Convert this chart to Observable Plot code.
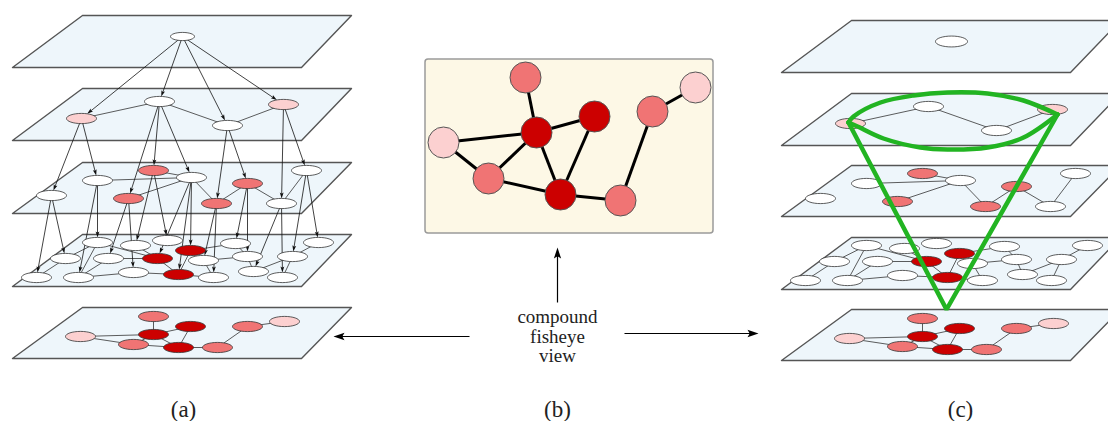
<!DOCTYPE html>
<html><head><meta charset="utf-8">
<script src="https://cdn.jsdelivr.net/npm/d3@7"></script>
<script src="https://cdn.jsdelivr.net/npm/@observablehq/plot@0.6"></script>
<style>body{margin:0;background:#fff;} #chart svg{display:block;}</style>
</head><body><div id="chart"></div>
<script>
// ---------------- DATA (panel (a) coordinates) ----------------
// Plane outlines: top / bottom y of each of the 5 layers, x of the top and bottom edges
const planeTop    = [15, 88, 162, 234, 307];
const planeBottom = [67, 140, 213, 286, 358];
const planeTopX    = [82, 351];
const planeBottomX = [12, 301];

// Nodes per layer: [id, x, y, colour class]
const layer0 = [["T", 182, 36, "white"]];
const layer1 = [["q1", 81, 118, "light"], ["q2", 159, 101, "white"], ["q3", 227, 125, "white"], ["q4", 283, 104, "light"]];
const layer2 = [["p1", 51, 195, "white"], ["p2", 97, 180, "white"], ["p3", 153, 170, "salmon"], ["p4", 191, 177, "white"],
  ["p5", 128, 198, "salmon"], ["p6", 247, 183, "salmon"], ["p7", 216, 203, "salmon"], ["p8", 306, 170, "white"], ["p9", 281, 203, "white"]];
const layer3 = [["A", 97, 242, "white"], ["B", 135, 245, "white"], ["C", 167, 240, "white"], ["D", 190, 250, "dark"], ["E", 157, 258, "dark"],
  ["F", 235, 243, "white"], ["G", 318, 242, "white"], ["H", 65, 258, "white"], ["I", 108, 258, "white"], ["J", 203, 260, "white"],
  ["K", 247, 256, "white"], ["L", 292, 256, "white"], ["M", 36, 277, "white"], ["N", 78, 277, "white"], ["O", 133, 272, "white"],
  ["P", 178, 274, "dark"], ["Q", 213, 277, "white"], ["R", 253, 271, "white"], ["S", 282, 277, "white"]];
const layer4 = [["a1", 153, 316, "salmon"], ["a2", 190, 326, "dark"], ["a3", 153, 334, "dark"], ["a4", 80, 336, "light"],
  ["a5", 133, 344, "salmon"], ["a6", 178, 347, "dark"], ["a7", 217, 347, "salmon"], ["a8", 247, 326, "salmon"], ["a9", 284, 321, "light"]];
const layers = [layer0, layer1, layer2, layer3, layer4];

// Edges inside the planes
const planeEdges = [
  ["q1","q2"],["q2","q3"],["q3","q4"],
  ["p2","p4"],["p3","p4"],["p5","p4"],["p4","p7"],["p7","p6"],["p6","p9"],["p9","p8"],
  ["H","A"],["M","H"],["N","I"],["A","N"],["I","E"],["A","E"],["N","O"],["O","P"],["E","P"],["D","P"],["D","F"],
  ["J","Q"],["J","K"],["P","Q"],["K","R"],["F","K"],["R","L"],["L","S"],["L","G"],["B","E"],
  ["a1","a3"],["a3","a2"],["a4","a3"],["a4","a5"],["a5","a3"],["a3","a6"],["a2","a6"],["a5","a6"],["a6","a7"],["a7","a8"],["a8","a9"]
];
// Arrows between planes (panel (a) only)
const layerArrows = [
  ["T","q1"],["T","q2"],["T","q3"],["T","q4"],
  ["q1","p1"],["q1","p2"],["q2","p5"],["q2","p3"],["q2","p4"],["q3","p7"],["q3","p6"],["q4","p9"],["q4","p8"],
  ["p1","M"],["p1","H"],["p2","A"],["p2","N"],["p5","I"],["p5","O"],["p3","B"],["p3","C"],["p4","E"],["p4","P"],["p4","D"],
  ["p7","Q"],["p7","J"],["p6","F"],["p6","K"],["p9","R"],["p9","S"],["p8","L"],["p8","G"]
];

// Panel (c) offsets relative to panel (a)
const panelCShiftX = 769;
const panelCShiftY = [5, 5, 3, 3, 2];

// Panel (b): fisheye graph
const bNodes = [["b1", 525, 77, "salmon"], ["b2", 695, 87, "light"], ["b3", 652, 111, "salmon"], ["b4", 594, 116, "dark"],
  ["b5", 536, 132, "dark"], ["b6", 443, 142, "light"], ["b7", 488, 178, "salmon"], ["b8", 560, 194, "dark"], ["b9", 620, 200, "salmon"]];
const bEdges = [["b1","b5"],["b5","b4"],["b5","b6"],["b5","b7"],["b5","b8"],["b4","b8"],["b6","b7"],["b7","b8"],["b8","b9"],["b9","b3"],["b3","b2"]];
const bBox = [{x1: 425, x2: 713, y1: 59, y2: 233}];

// Big arrows around the caption: [x1, y1, x2(tip), y2(tip)]
const bigArrows = [[557, 302, 557, 247], [469, 336, 333, 336], [624, 333, 758, 333]];
const caption = ["compound\nfisheye\nview"];
const captionPos = [557, 336];

// Green cone in panel (c): lens outline points and apex
const lensUpperPts = [[848, 122], [853, 116], [880, 102], [913, 95], [947, 92], [987, 93], [1023, 100], [1057, 114]];
const lensLowerPts = [[848, 122], [857, 126], [883, 138], [920, 147], [947, 149], [987, 147], [1023, 137], [1057, 114]];
const coneApex = [946, 309];

const panelLabels = [["(a)", 183, 409], ["(b)", 557, 409], ["(c)", 960, 409]];

// ---------------- STYLES ----------------
const colours = {white: "#ffffff", light: "#fcd0d0", salmon: "#f07474", dark: "#cc0000"};
const planeFill = "#eef6fb", planeStroke = "#555";
const green = "#22b422";

// ---------------- BUILD ----------------
const ellipseSym = (ratio) => ({
  draw(ctx, size) {
    const rx = Math.sqrt(size / Math.PI), ry = rx * ratio, k = 0.5523;
    ctx.moveTo(rx, 0);
    ctx.bezierCurveTo(rx, ry * k, rx * k, ry, 0, ry);
    ctx.bezierCurveTo(-rx * k, ry, -rx, ry * k, -rx, 0);
    ctx.bezierCurveTo(-rx, -ry * k, -rx * k, -ry, 0, -ry);
    ctx.bezierCurveTo(rx * k, -ry, rx, -ry * k, rx, 0);
    ctx.closePath();
  }
});
const headSym = (ratio) => ({
  draw(ctx, size) {
    const l = Math.sqrt(size / Math.PI), w = l * ratio;
    ctx.moveTo(0, 0); ctx.lineTo(w, l); ctx.lineTo(0, l * 0.8); ctx.lineTo(-w, l); ctx.closePath();
  }
});

const nodesA = [], nodesC = [];
layers.forEach((L, li) => L.forEach(([id, x, y, kind]) => {
  nodesA.push({id, layer: li, x, y, kind});
  nodesC.push({id, layer: li, x: x + panelCShiftX, y: y + panelCShiftY[li], kind});
}));
const byA = new Map(nodesA.map(d => [d.id, d]));
const byC = new Map(nodesC.map(d => [d.id, d]));

const planes = [];
planeTop.forEach((t, i) => {
  const b = planeBottom[i];
  ["a", "c"].forEach(p => {
    const dx = p === "a" ? 0 : panelCShiftX, dy = p === "a" ? 0 : panelCShiftY[i];
    const pts = [[planeTopX[0], t], [planeTopX[1], t], [planeBottomX[1], b], [planeBottomX[0], b], [planeTopX[0], t]];
    pts.forEach(([x, y]) => planes.push({z: p + i, x: x + dx, y: y + dy}));
  });
});

const edgeSegs = [];
planeEdges.forEach(([s, t]) => {
  [byA, byC].forEach(m => { const a = m.get(s), b = m.get(t); edgeSegs.push({x1: a.x, y1: a.y, x2: b.x, y2: b.y}); });
});

const RX = 15, RY = 5;
const arrowSegs = [], arrowHeads = [];
layerArrows.forEach(([s, t]) => {
  const a = byA.get(s), b = byA.get(t);
  const dx = b.x - a.x, dy = b.y - a.y, len = Math.hypot(dx, dy), ux = dx / len, uy = dy / len;
  const tt = 1 / Math.sqrt((ux / RX) ** 2 + (uy / RY) ** 2);
  const ex = b.x - ux * tt, ey = b.y - uy * tt;
  arrowSegs.push({x1: a.x, y1: a.y, x2: ex - ux * 3, y2: ey - uy * 3});
  arrowHeads.push({x: ex, y: ey, rot: Math.atan2(dy, dx) * 180 / Math.PI + 90});
});

const bigSegs = [], bigHeads = [];
bigArrows.forEach(([x1, y1, x2, y2]) => {
  const dx = x2 - x1, dy = y2 - y1, len = Math.hypot(dx, dy), ux = dx / len, uy = dy / len;
  bigSegs.push({x1, y1, x2: x2 - ux * 6, y2: y2 - uy * 6});
  bigHeads.push({x: x2, y: y2, rot: Math.atan2(dy, dx) * 180 / Math.PI + 90});
});

const bNodeData = bNodes.map(([id, x, y, kind]) => ({id, x, y, kind}));
const bMap = new Map(bNodeData.map(d => [d.id, d]));
const bSegs = bEdges.map(([s, t]) => ({x1: bMap.get(s).x, y1: bMap.get(s).y, x2: bMap.get(t).x, y2: bMap.get(t).y}));

const lensUpper = lensUpperPts.map(([x, y]) => ({x, y}));
const lensLower = lensLowerPts.map(([x, y]) => ({x, y}));
const cone = [lensUpperPts[0], coneApex, lensUpperPts[lensUpperPts.length - 1]].map(([x, y]) => ({x, y}));

const ell = ellipseSym(0.34);
const nodeMarks = (data, r) => Plot.dot(data, {x: "x", y: "y", r, symbol: ell, fill: d => colours[d.kind], stroke: "#333", strokeWidth: 0.8});

const chart = Plot.plot({
  width: 1108, height: 421, margin: 0,
  x: {domain: [0, 1108], range: [0, 1108], axis: null},
  y: {domain: [0, 421], range: [0, 421], axis: null},
  style: {background: "#fff"},
  marks: [
    Plot.line(planes, {x: "x", y: "y", z: "z", fill: planeFill, stroke: planeStroke, strokeWidth: 1.4, curve: "linear"}),
    Plot.link(edgeSegs, {x1: "x1", y1: "y1", x2: "x2", y2: "y2", stroke: "#333", strokeWidth: 0.8}),
    Plot.link(arrowSegs, {x1: "x1", y1: "y1", x2: "x2", y2: "y2", stroke: "#111", strokeWidth: 0.8}),
    Plot.dot(arrowHeads, {x: "x", y: "y", r: 6, rotate: "rot", symbol: headSym(0.32), fill: "#111", stroke: "none"}),
    nodeMarks(nodesA.filter(d => d.layer === 0), 12),
    nodeMarks(nodesC.filter(d => d.layer === 0), 16),
    nodeMarks(nodesA.filter(d => d.layer > 0), RX),
    nodeMarks(nodesC.filter(d => d.layer > 0), RX),
    // panel (b)
    Plot.rect(bBox, {x1: "x1", x2: "x2", y1: "y1", y2: "y2", fill: "#fdf8e6", stroke: "#9a9a9a", strokeWidth: 1.5, rx: 3}),
    Plot.link(bSegs, {x1: "x1", y1: "y1", x2: "x2", y2: "y2", stroke: "#000", strokeWidth: 3}),
    Plot.dot(bNodeData, {x: "x", y: "y", r: 15.5, fill: d => colours[d.kind], stroke: "#555", strokeWidth: 1}),
    // caption arrows
    Plot.link(bigSegs, {x1: "x1", y1: "y1", x2: "x2", y2: "y2", stroke: "#000", strokeWidth: 1.2}),
    Plot.dot(bigHeads, {x: "x", y: "y", r: 11, rotate: "rot", symbol: headSym(0.33), fill: "#000", stroke: "none"}),
    Plot.text(caption, {x: () => captionPos[0], y: () => captionPos[1], text: d => d, fontFamily: "Liberation Serif", fontSize: 19, lineHeight: 1.02, fill: "#222", lineAnchor: "middle"}),
    // green cone
    Plot.line(lensUpper, {x: "x", y: "y", curve: "catmull-rom", stroke: green, strokeWidth: 4.5}),
    Plot.line(lensLower, {x: "x", y: "y", curve: "catmull-rom", stroke: green, strokeWidth: 4.5}),
    Plot.line(cone, {x: "x", y: "y", stroke: green, strokeWidth: 4.5, strokeLinejoin: "miter"}),
    // labels
    Plot.text(panelLabels, {x: d => d[1], y: d => d[2], text: d => d[0], fontFamily: "Liberation Serif", fontSize: 23, fill: "#222"})
  ]
});
document.getElementById("chart").appendChild(chart);
</script>
</body></html>
